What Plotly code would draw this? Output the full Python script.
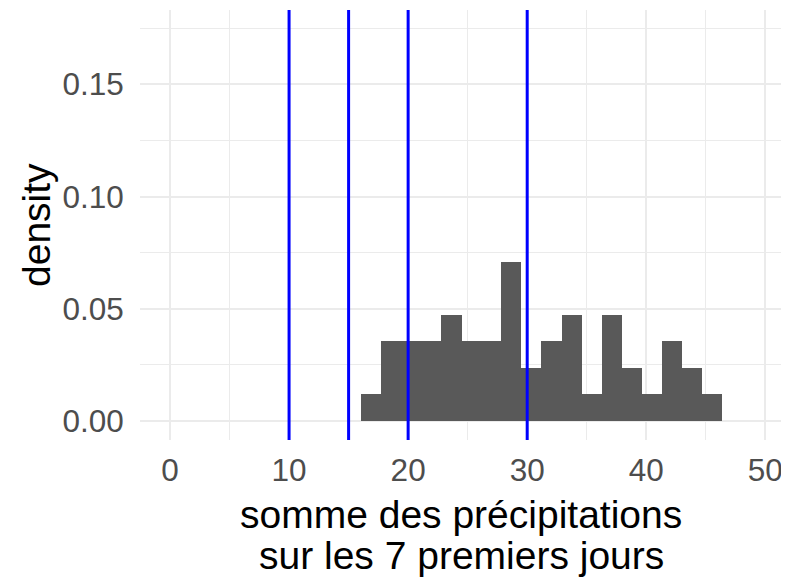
import plotly.graph_objects as go

# Histogram bins (left/right edges) and densities
bin_left = [16.0, 17.7, 19.4, 21.1, 22.8, 24.5, 26.1, 27.8, 29.5,
            31.2, 32.9, 34.6, 36.3, 38.0, 39.6, 41.3, 43.0, 44.7]
bin_right = [17.7, 19.4, 21.1, 22.8, 24.5, 26.1, 27.8, 29.5, 31.2,
             32.9, 34.6, 36.3, 38.0, 39.6, 41.3, 43.0, 44.7, 46.4]
density = [0.0118, 0.0355, 0.0355, 0.0355, 0.0473, 0.0355, 0.0355, 0.0709, 0.0236,
           0.0355, 0.0473, 0.0118, 0.0473, 0.0236, 0.0118, 0.0355, 0.0236, 0.0118]

vlines = [10, 15, 20, 30]
x_ticks = [0, 10, 20, 30, 40, 50]
y_ticks = [0.00, 0.05, 0.10, 0.15]
y_tick_labels = ["0.00", "0.05", "0.10", "0.15"]
x_title_lines = ["somme des précipitations", "sur les 7 premiers jours"]
y_title = "density"

centers = [(a + b) / 2 for a, b in zip(bin_left, bin_right)]
widths = [b - a for a, b in zip(bin_left, bin_right)]

fig = go.Figure()
fig.add_trace(go.Bar(x=centers, y=density, width=widths,
                     marker=dict(color="#595959", line=dict(width=0)),
                     showlegend=False, hoverinfo="skip"))

for v in vlines:
    fig.add_shape(type="line", x0=v, x1=v, y0=0, y1=1, xref="x", yref="y domain",
                  line=dict(color="#0000FF", width=3))

FONT = "Liberation Sans, Arial, sans-serif"
TITLE_SIZE = 39

fig.add_annotation(text=x_title_lines[0], xref="paper", yref="paper", x=0.5, y=0,
                   xanchor="center", yanchor="middle", yshift=-74, showarrow=False,
                   font=dict(size=TITLE_SIZE, color="black", family=FONT))
fig.add_annotation(text=x_title_lines[1], xref="paper", yref="paper", x=0.5, y=0,
                   xanchor="center", yanchor="middle", yshift=-115, showarrow=False,
                   font=dict(size=TITLE_SIZE, color="black", family=FONT))
fig.add_annotation(text=y_title, xref="paper", yref="paper", x=0, y=0.5,
                   xanchor="center", yanchor="middle", xshift=-104, textangle=-90,
                   showarrow=False,
                   font=dict(size=TITLE_SIZE, color="black", family=FONT))

# page body has an 8px margin, so the figure is drawn 8px smaller
fig.update_layout(
    width=781, height=572,
    margin=dict(l=132, r=7, t=2, b=140),
    plot_bgcolor="white", paper_bgcolor="white",
    font=dict(family=FONT),
    bargap=0,
    xaxis=dict(range=[-2.52, 51.4], tickvals=x_ticks,
               ticktext=[str(t) for t in x_ticks],
               showgrid=True, gridcolor="#EBEBEB", gridwidth=2,
               minor=dict(dtick=5, showgrid=True, gridcolor="#EBEBEB", gridwidth=1),
               zeroline=False, showline=False, automargin=False,
               ticks="outside", ticklen=2, tickcolor="rgba(0,0,0,0)",
               tickfont=dict(size=31.5, color="#4D4D4D")),
    yaxis=dict(range=[-0.0086, 0.1832], tickvals=y_ticks, ticktext=y_tick_labels,
               showgrid=True, gridcolor="#EBEBEB", gridwidth=2,
               minor=dict(dtick=0.025, showgrid=True, gridcolor="#EBEBEB", gridwidth=1),
               zeroline=False, showline=False, automargin=False,
               ticks="outside", ticklen=9, tickcolor="rgba(0,0,0,0)",
               tickfont=dict(size=31.5, color="#4D4D4D")),
)

fig.write_html("out.html")
